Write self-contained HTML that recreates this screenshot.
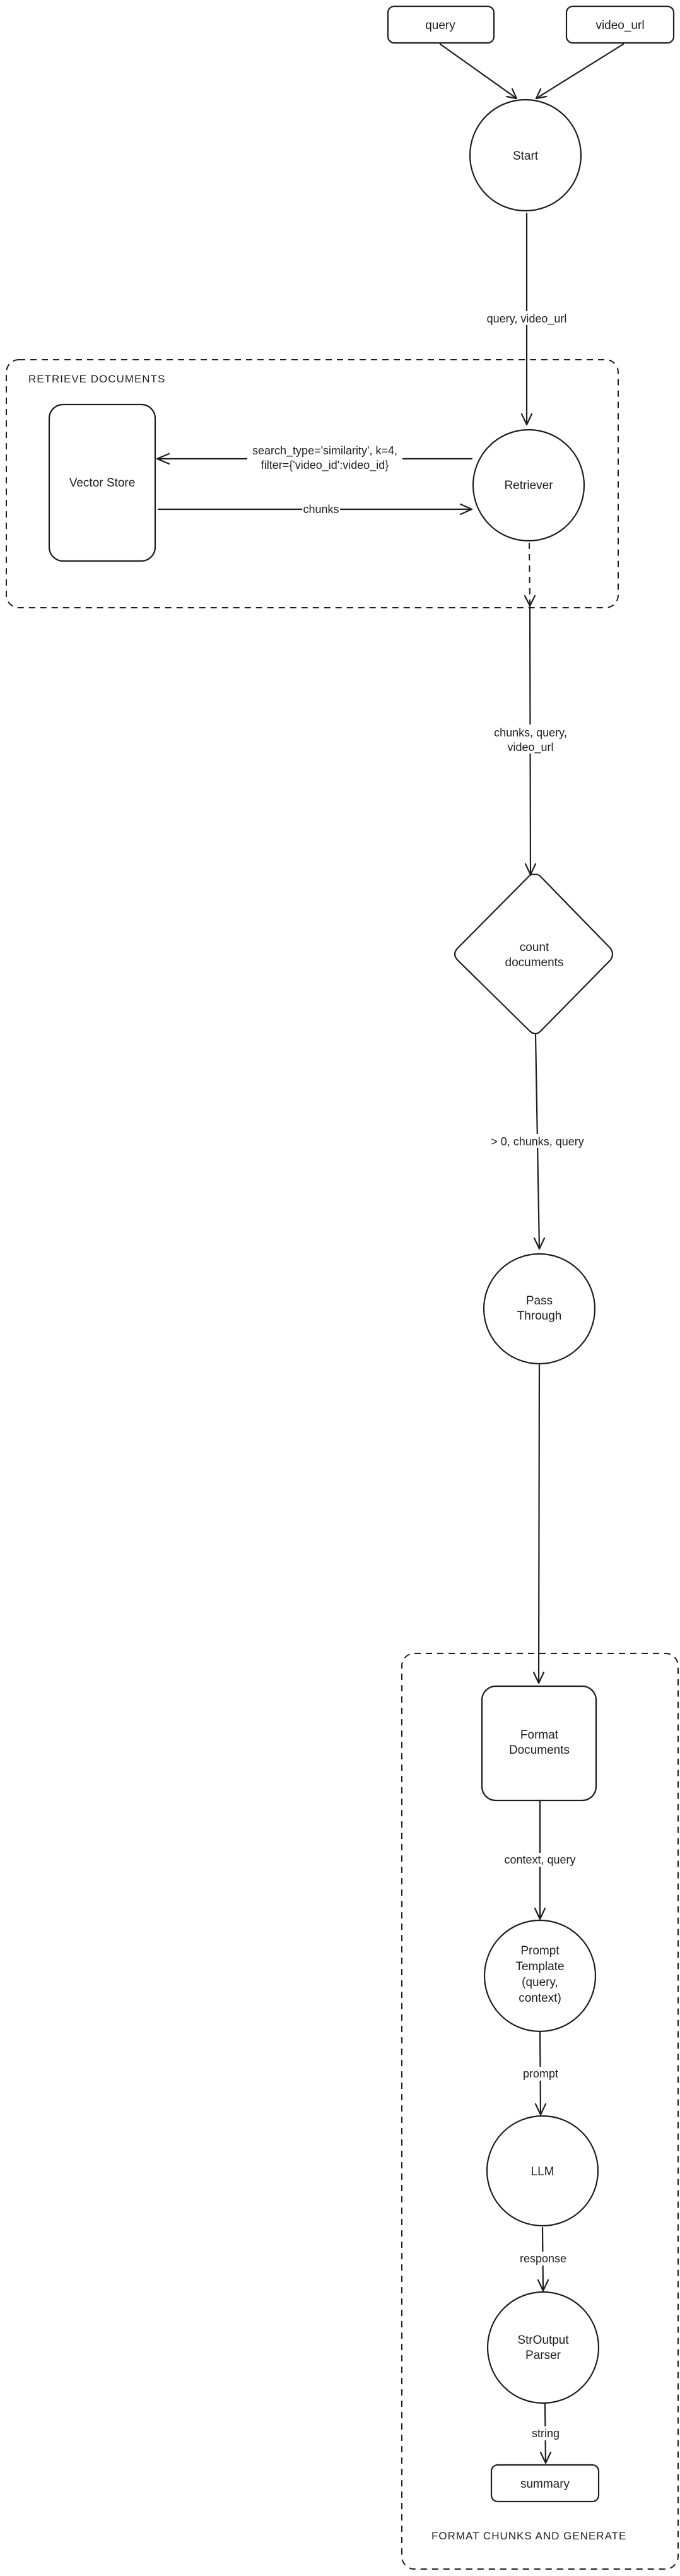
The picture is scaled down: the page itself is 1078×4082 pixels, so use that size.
<!DOCTYPE html>
<html><head><meta charset="utf-8"><style>
html,body{margin:0;padding:0;background:#fff;}
svg{display:block;}
text{font-family:"Liberation Sans",sans-serif;fill:#1e1e1e;text-anchor:middle;}
.n{font-size:19px;}
.l{font-size:18px;}
.t{font-size:17px;letter-spacing:1px;text-anchor:start;}
.s{stroke:#1e1e1e;stroke-width:2.2;fill:none;stroke-linecap:round;stroke-linejoin:round;}
.d{stroke:#1e1e1e;stroke-width:2;fill:none;stroke-dasharray:10 8;}
.bg{fill:#fff;stroke:none;}
</style></head><body>
<svg width="1078" height="4082" viewBox="0 0 1078 4082" xmlns="http://www.w3.org/2000/svg">
<rect class="d" x="10" y="570" width="970" height="393" rx="20"/>
<text class="t" x="45" y="606">RETRIEVE DOCUMENTS</text>
<rect class="d" x="637" y="2620" width="438" height="1451" rx="20"/>
<text class="t" x="684" y="4024">FORMAT CHUNKS AND GENERATE</text>

<rect class="s" x="615" y="10" width="168" height="58" rx="10"/>
<text class="n" x="698" y="46">query</text>
<rect class="s" x="898" y="10" width="170" height="58" rx="10"/>
<text class="n" x="983" y="46">video_url</text>
<path class="s" d="M698 70 L819 156 M803 153 L819 156 L812 141"/>
<path class="s" d="M988 70 L850 156 M857 141 L850 156 L866 153"/>

<circle class="s" cx="833" cy="246" r="88"/>
<text class="n" x="833" y="253">Start</text>
<path class="s" d="M835 338 L835 673 M827 656 L835 673 L843 656"/>
<rect class="bg" x="765" y="493" width="140" height="22"/>
<text class="l" x="835" y="511">query, video_url</text>

<rect class="s" x="78" y="641" width="168" height="248" rx="22"/>
<text class="n" x="162" y="771">Vector Store</text>
<circle class="s" cx="838" cy="769" r="88"/>
<text class="n" x="838" y="775">Retriever</text>
<path class="s" d="M748 727 L249 727 M268 719 L249 727 L268 735"/>
<rect class="bg" x="392" y="700" width="246" height="50"/>
<text class="l" x="515" y="720">search_type='similarity', k=4,</text>
<text class="l" x="515" y="743">filter={'video_id':video_id}</text>
<path class="s" d="M251 807 L748 807 M730 799 L748 807 L730 815"/>
<rect class="bg" x="479" y="796" width="60" height="20"/>
<text class="l" x="509" y="813">chunks</text>
<path class="d" d="M839 860 L840 958"/>
<path class="s" d="M832 944 L840 960 L848 944"/>
<path class="s" d="M840 960 L841 1386 M833 1369 L841 1386 L849 1369"/>
<rect class="bg" x="776" y="1148" width="130" height="46"/>
<text class="l" x="841" y="1167">chunks, query,</text>
<text class="l" x="841" y="1190">video_url</text>

<path class="s" d="M847 1386 Q852 1384 857 1389 L968 1503 Q974 1512 968 1521 L857 1634 Q849 1642 840 1634 L725 1521 Q717 1512 725 1503 L838 1389 Q843 1384 847 1386 Z"/>
<text class="n" x="847" y="1507">count</text>
<text class="n" x="847" y="1531">documents</text>
<path class="s" d="M849 1640 L855 1979 M847 1962 L855 1979 L863 1962"/>
<rect class="bg" x="772" y="1797" width="162" height="22"/>
<text class="l" x="852" y="1815">&gt; 0, chunks, query</text>

<ellipse class="s" cx="855" cy="2074" rx="88" ry="87"/>
<text class="n" x="855" y="2067">Pass</text>
<text class="n" x="855" y="2091">Through</text>
<path class="s" d="M855 2163 L854 2667 M846 2650 L854 2667 L862 2650"/>

<rect class="s" x="764" y="2672" width="181" height="181" rx="22"/>
<text class="n" x="855" y="2755">Format</text>
<text class="n" x="855" y="2779">Documents</text>
<path class="s" d="M856 2853 L856 3041 M848 3024 L856 3041 L864 3024"/>
<rect class="bg" x="791" y="2936" width="130" height="22"/>
<text class="l" x="856" y="2953">context, query</text>

<ellipse class="s" cx="856" cy="3131" rx="88" ry="88"/>
<text class="n" x="856" y="3097">Prompt</text>
<text class="n" x="856" y="3122">Template</text>
<text class="n" x="856" y="3147">(query,</text>
<text class="n" x="856" y="3172">context)</text>
<path class="s" d="M856 3219 L857 3351 M849 3334 L857 3351 L865 3334"/>
<rect class="bg" x="826" y="3275" width="62" height="22"/>
<text class="l" x="857" y="3292">prompt</text>

<ellipse class="s" cx="860" cy="3440" rx="88" ry="87"/>
<text class="n" x="860" y="3447">LLM</text>
<path class="s" d="M860 3530 L861 3630 M853 3613 L861 3630 L869 3613"/>
<rect class="bg" x="822" y="3568" width="78" height="22"/>
<text class="l" x="861" y="3585">response</text>

<ellipse class="s" cx="861" cy="3720" rx="88" ry="88"/>
<text class="n" x="861" y="3714">StrOutput</text>
<text class="n" x="861" y="3738">Parser</text>
<path class="s" d="M864 3810 L865 3903 M857 3886 L865 3903 L873 3886"/>
<rect class="bg" x="838" y="3845" width="54" height="22"/>
<text class="l" x="865" y="3862">string</text>

<rect class="s" x="779" y="3906" width="170" height="58" rx="10"/>
<text class="n" x="864" y="3942">summary</text>
</svg>
</body></html>
